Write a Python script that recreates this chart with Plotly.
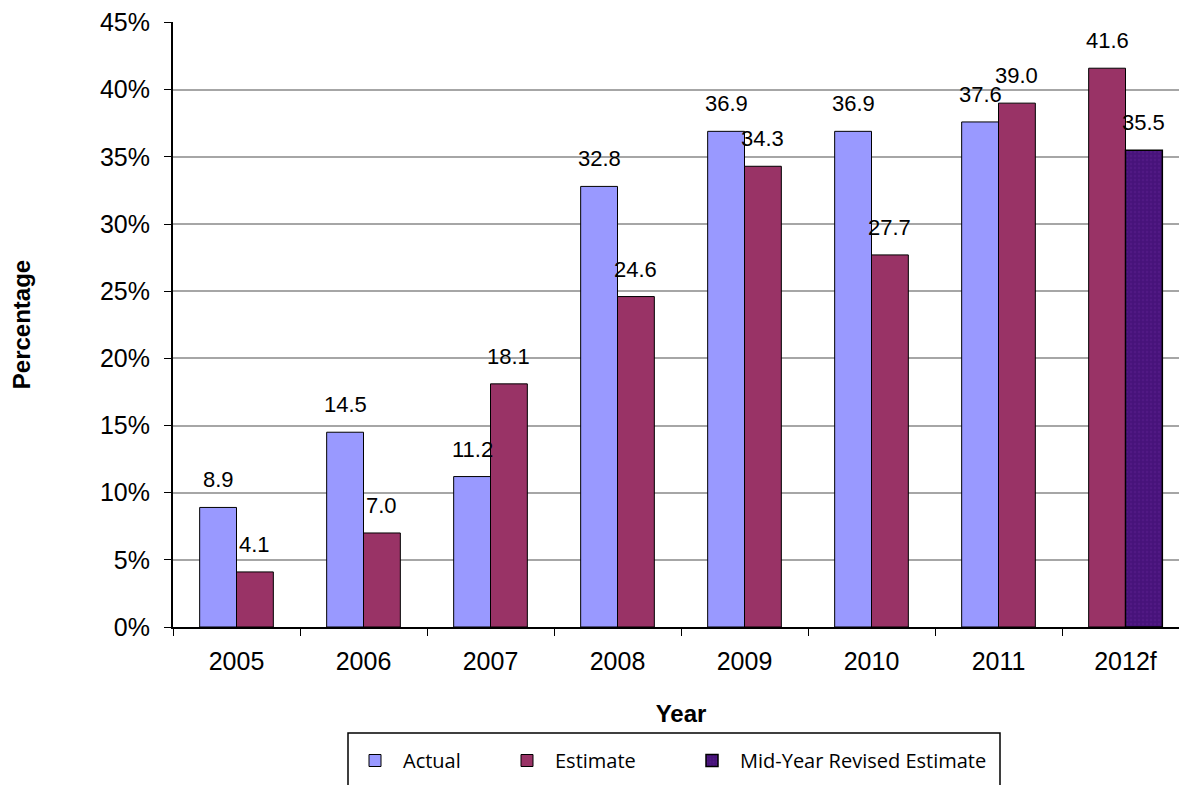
import plotly.graph_objects as go

years = ["2005", "2006", "2007", "2008", "2009", "2010", "2011", "2012f"]
actual = [8.9, 14.5, 11.2, 32.8, 36.9, 36.9, 37.6, None]
estimate = [4.1, 7.0, 18.1, 24.6, 34.3, 27.7, 39.0, 41.6]
revised_years = ["2012f"]
revised = [35.5]
y_ticks = [0, 5, 10, 15, 20, 25, 30, 35, 40, 45]
y_ticklabels = [f"{v}%" for v in y_ticks]

W = 0.29
est_offset = [0.0 if a is not None else -W for a in actual]

FONT = "Liberation Sans, Arial, sans-serif"
LFONT = dict(family="Open Sans, sans-serif", size=20, color="#000000")

# layout geometry (figure pixels)
FW, FH = 1187, 785
ML, MR, MT, MB = 165, 6, 14, 166
PW, PH = FW - ML - MR, FH - MT - MB
def px(x):
    return (x - ML) / PW
def py(y):
    return (FH - MB - y) / PH

fig = go.Figure()
fig.add_trace(go.Bar(name="Actual", x=years, y=actual, width=W, offset=-W, legend="legend",
                     marker=dict(color="#9999FF", line=dict(color="#000000", width=1))))
fig.add_trace(go.Bar(name="Estimate", x=years, y=estimate, width=W, offset=est_offset, legend="legend2",
                     marker=dict(color="#993366", line=dict(color="#000000", width=1))))
fig.add_trace(go.Bar(name="Mid-Year Revised Estimate", x=revised_years, y=revised, width=W, offset=0,
                     legend="legend3",
                     marker=dict(color="#47137A", line=dict(color="#000000", width=1.5),
                                 pattern=dict(shape=".", fgcolor="#5a1e8e", size=4, solidity=0.3))))

annotations = []
def lab(i, off, v):
    annotations.append(dict(x=i + off + W / 2, y=v, xref="x", yref="y", text=f"{v:.1f}",
                            showarrow=False, yanchor="bottom", yshift=13,
                            font=dict(family=FONT, size=22, color="#000000")))

for i, v in enumerate(actual):
    if v is not None:
        lab(i, -W, v)
for i, v in enumerate(estimate):
    lab(i, est_offset[i], v)
for y, v in zip(revised_years, revised):
    lab(years.index(y), 0.0, v)

def leg(xpix):
    return dict(orientation="h", x=px(xpix), y=py(733), xanchor="left", yanchor="top",
                borderwidth=0, bgcolor="rgba(0,0,0,0)", font=LFONT, itemwidth=46)

fig.update_layout(
    width=FW, height=FH,
    margin=dict(l=ML, r=MR, t=MT, b=MB, autoexpand=False),
    paper_bgcolor="white", plot_bgcolor="white",
    barmode="overlay",
    showlegend=True,
    font=dict(family=FONT, color="#000000"),
    annotations=annotations,
    legend=leg(339),
    legend2=leg(491),
    legend3=leg(676),
    shapes=[dict(type="rect", xref="paper", yref="paper", x0=px(340), x1=px(992),
                 y0=py(725), y1=py(800), line=dict(color="#000000", width=1.5),
                 fillcolor="rgba(0,0,0,0)", layer="above")],
)
fig.update_xaxes(type="category", categoryorder="array", categoryarray=years, automargin=False,
                 range=[-0.5, 7.5], showline=True, linecolor="#000000", linewidth=2,
                 ticks="outside", tickson="boundaries", ticklen=7, tickcolor="#000000",
                 tickfont=dict(family=FONT, size=25), ticklabelstandoff=11,
                 title=dict(text="<b>Year</b>", font=dict(family=FONT, size=24), standoff=31),
                 showgrid=False)
fig.update_yaxes(range=[0, 45.04], tickmode="array", tickvals=y_ticks, ticktext=y_ticklabels,
                 showline=True, linecolor="#000000",
                 automargin=False, ticklabeloverflow="allow",
                 linewidth=2, ticks="outside", ticklen=7, tickcolor="#000000",
                 tickfont=dict(family=FONT, size=25), ticklabelstandoff=9,
                 showgrid=True, gridcolor="#A6A6A6", gridwidth=1.5,
                 zeroline=False,
                 title=dict(text="<b>Percentage</b>", font=dict(family=FONT, size=24), standoff=68))

fig.write_html("out.html")
